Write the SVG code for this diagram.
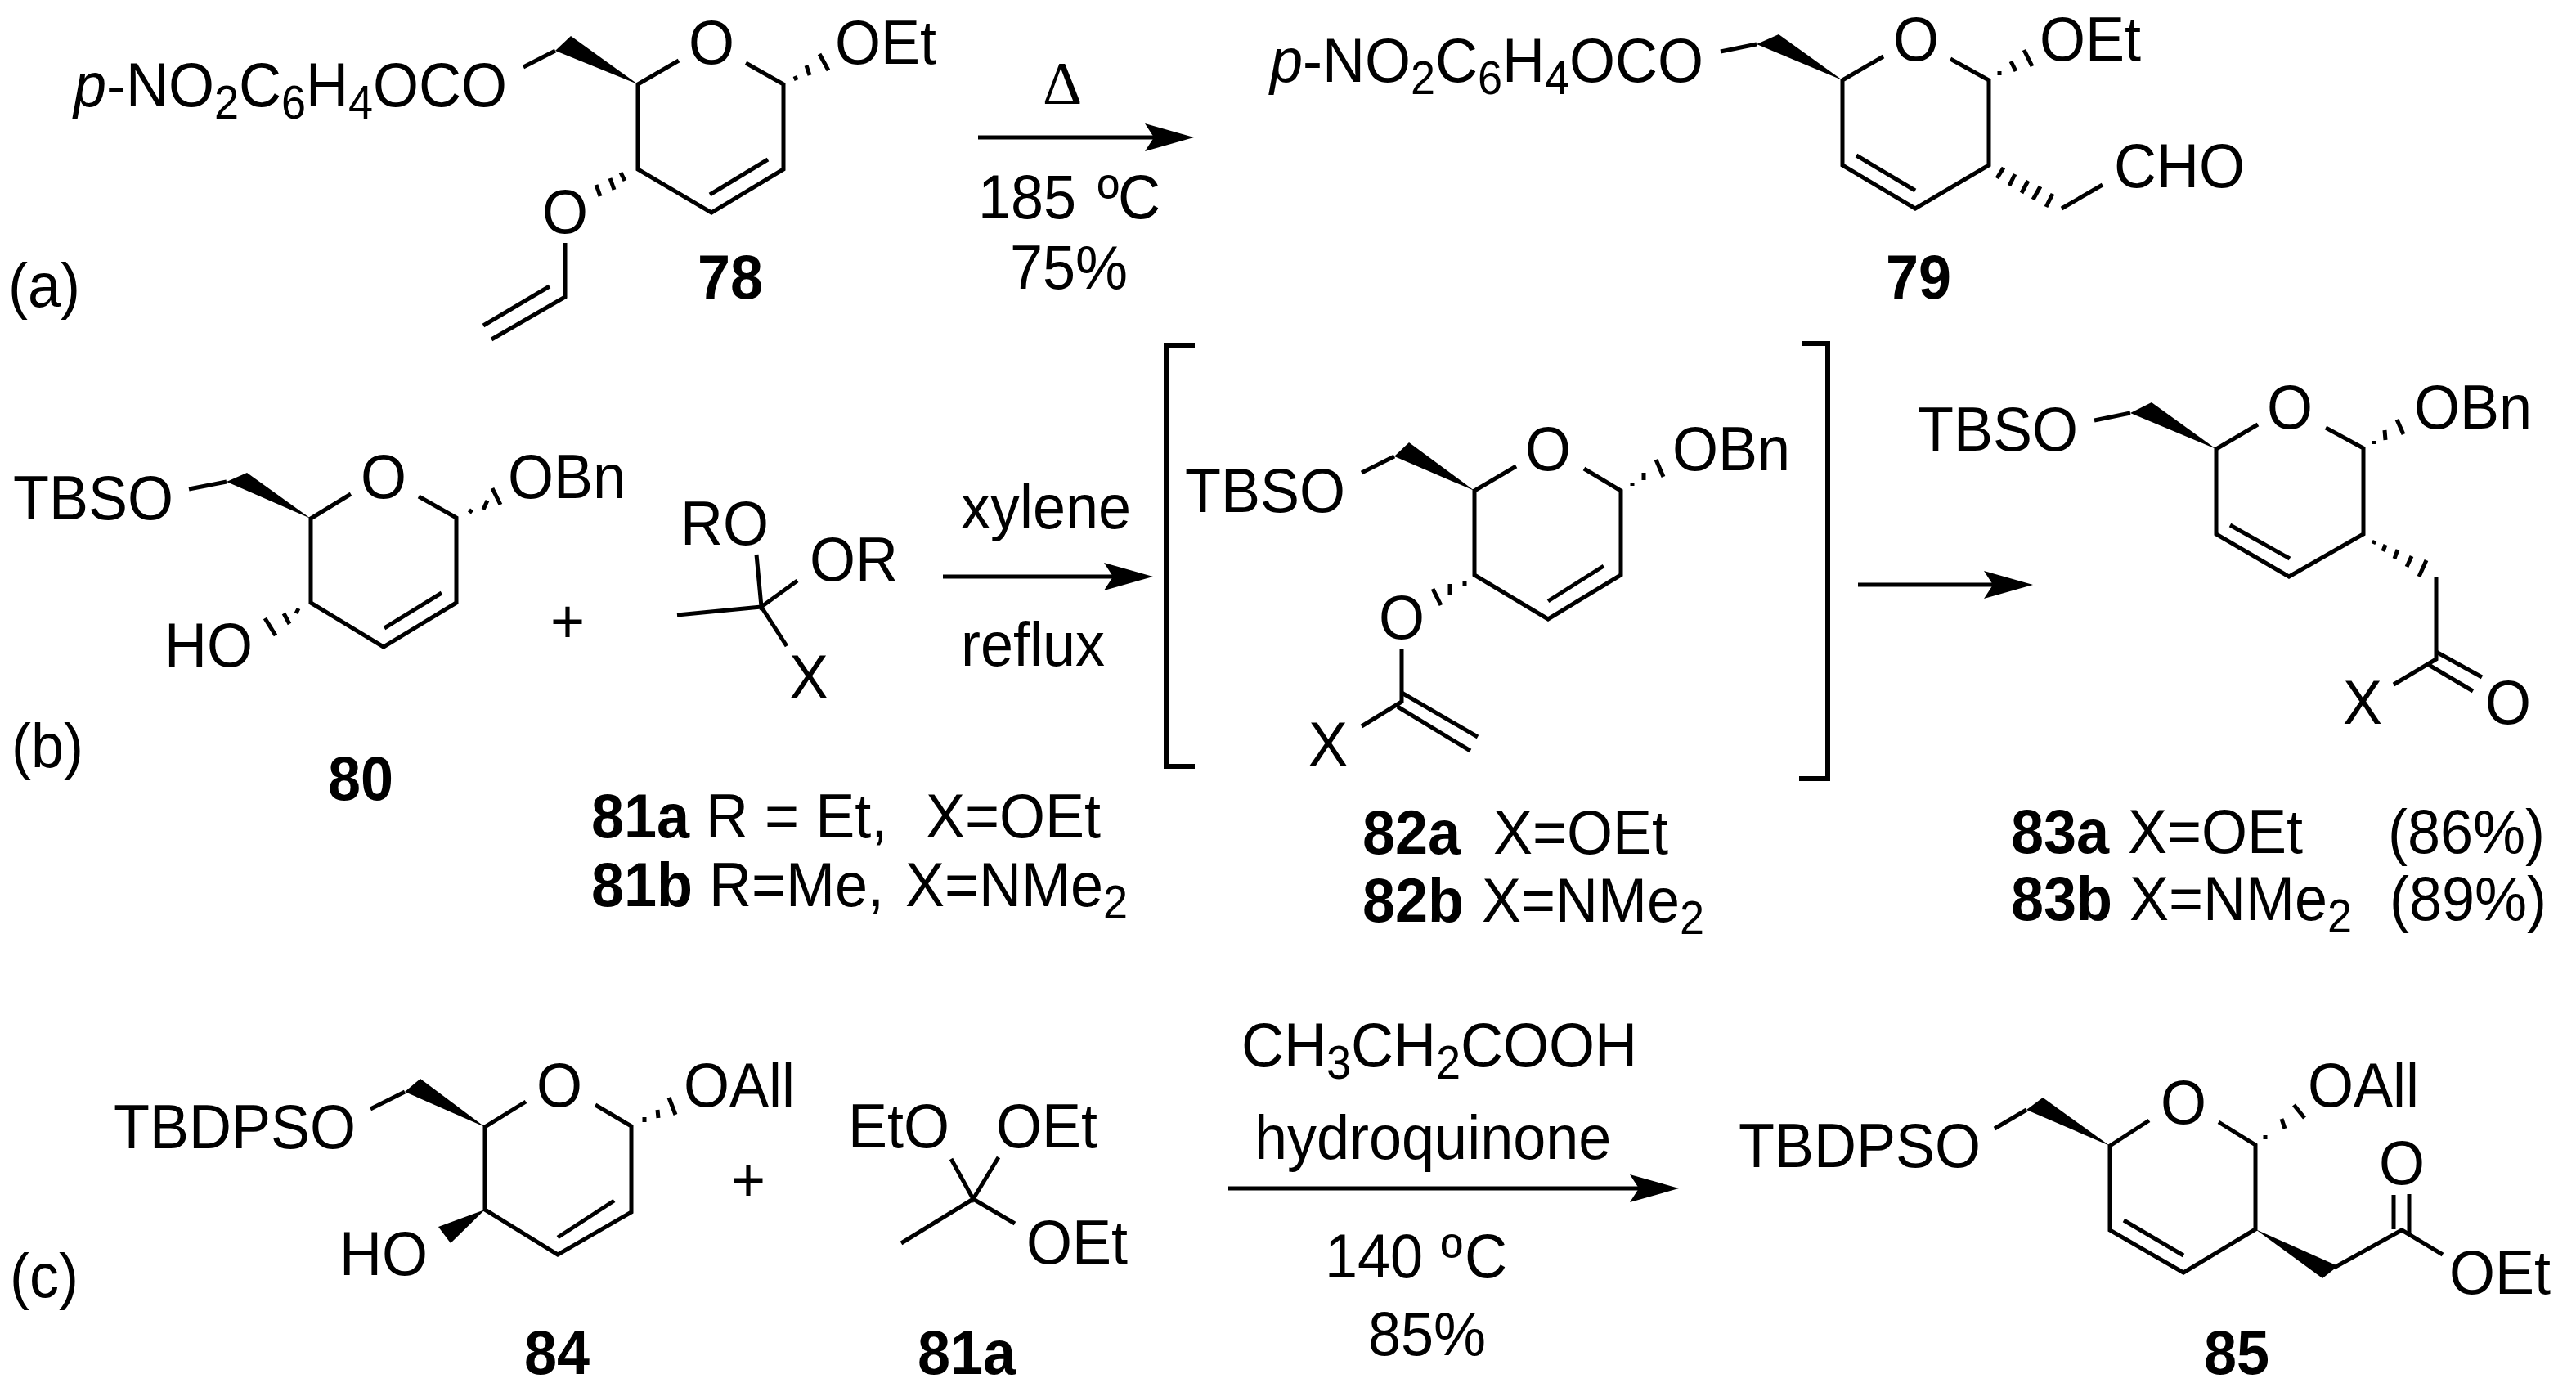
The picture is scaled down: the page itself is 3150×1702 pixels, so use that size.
<svg xmlns="http://www.w3.org/2000/svg" width="3150" height="1702" viewBox="0 0 3150 1702">
<style>
text{font-family:"Liberation Sans",Arial,sans-serif;font-size:72px;fill:#000;transform-box:fill-box;transform-origin:0 81%;transform:scaleY(1.05)}
.b{font-weight:bold}
.i{font-style:italic}
.s{font-size:54px}
.bd{fill:none;stroke:#000;stroke-width:5;stroke-linejoin:miter;stroke-linecap:butt}
.h{fill:none;stroke:#000;stroke-width:5}
.w{fill:#000;stroke:none}
.ar{stroke:#000;stroke-width:5;fill:none;marker-end:url(#ah)}
.br{fill:none;stroke:#000;stroke-width:6}
</style>
<defs>
<marker id="ah" markerUnits="userSpaceOnUse" markerWidth="62" markerHeight="36" viewBox="0 0 62 36" refX="20" refY="18" orient="auto"><path d="M1,1 L61,18 L1,35 L12,18 Z" fill="#000"/></marker>
</defs>
<rect width="3150" height="1702" fill="#fff"/>

<g id="labels">
<text x="10" y="375">(a)</text>
<text x="14" y="938">(b)</text>
<text x="12" y="1586">(c)</text>
</g>

<g id="n78">
<text x="90" y="130"><tspan class="i">p</tspan>-NO<tspan class="s" dy="15">2</tspan><tspan dy="-15">C</tspan><tspan class="s" dy="15">6</tspan><tspan dy="-15">H</tspan><tspan class="s" dy="15">4</tspan><tspan dy="-15">OCO</tspan></text>
<text x="842" y="78">O</text>
<text x="1021" y="78">OEt</text>
<text x="663" y="285">O</text>
<text class="b" x="853" y="365">78</text>
<polyline class="bd" points="830,74 780,103 780,207 870,260 958,207 958,103 912,77"/>
<line class="bd" x1="868" y1="238" x2="939" y2="195"/>
<polyline class="bd" points="640,82 679,62"/>
<polygon class="w" points="780,103 698,44 679,62"/>
<path class="h" d="M972,93L974,98M986,80L990,92M1002,66L1013,86"/>
<path class="h" d="M759,211L764,221M746,218L751,232M729,226L734,240"/>
<polyline class="bd" points="691,297 691,363 601,415"/>
<line class="bd" x1="672" y1="350" x2="591" y2="398"/>
</g>

<g id="n79">
<text x="1553" y="100"><tspan class="i">p</tspan>-NO<tspan class="s" dy="15">2</tspan><tspan dy="-15">C</tspan><tspan class="s" dy="15">6</tspan><tspan dy="-15">H</tspan><tspan class="s" dy="15">4</tspan><tspan dy="-15">OCO</tspan></text>
<text x="2315" y="74">O</text>
<text x="2494" y="74">OEt</text>
<text x="2585" y="229">CHO</text>
<text class="b" x="2306" y="365">79</text>
<polyline class="bd" points="2303,69 2253,98 2253,202 2342,255 2432,202 2432,98 2385,72"/>
<line class="bd" x1="2270" y1="190" x2="2342" y2="233"/>
<polyline class="bd" points="2104,63 2148,54"/>
<polygon class="w" points="2253,98 2175,42 2148,54"/>
<path class="h" d="M2445,87L2445,92M2459,75L2465,87M2475,61L2485,81"/>
<path class="h" d="M2442,218L2450,205M2457,227L2464,213M2472,236L2480,221M2486,244L2495,228M2502,253L2510,237"/>
<line class="bd" x1="2521" y1="255" x2="2571" y2="226"/>
</g>

<g id="n80">
<text x="16" y="635">TBSO</text>
<text x="441" y="609">O</text>
<text x="621" y="609">OBn</text>
<text x="201" y="815">HO</text>
<text class="b" x="401" y="978">80</text>
<polyline class="bd" points="429,604 380,634 380,737 469,791 558,737 558,633 512,607"/>
<line class="bd" x1="470" y1="768" x2="540" y2="725"/>
<polyline class="bd" points="231,598 277,589"/>
<polygon class="w" points="380,634 302,578 277,589"/>
<path class="h" d="M574,627L577,623M591,623L596,612M602,597L612,617"/>
<path class="h" d="M365,744L362,750M347,750L354,763M324,756L337,777"/>
</g>

<g id="plus1"><text x="673" y="786">+</text></g>

<g id="n81">
<text x="832" y="666">RO</text>
<text x="990" y="710">OR</text>
<text x="965" y="854">X</text>
<path class="bd" d="M828,752L931,742M925,678L931,742L975,710M931,742L962,790"/>
<text x="723" y="1024"><tspan class="b">81a</tspan> R = Et,  <tspan x="1132">X=OEt</tspan></text>
<text x="723" y="1108"><tspan class="b">81b</tspan> R=Me, <tspan x="1107">X=NMe</tspan><tspan class="s" dy="15">2</tspan></text>
</g>

<g id="n82">
<text x="1449" y="626">TBSO</text>
<text x="1865" y="575">O</text>
<text x="2045" y="575">OBn</text>
<text x="1686" y="781">O</text>
<text x="1600" y="936">X</text>
<polyline class="bd" points="1854,570 1803,600 1803,703 1893,757 1982,703 1982,600 1937,573"/>
<line class="bd" x1="1893" y1="735" x2="1961" y2="692"/>
<polyline class="bd" points="1665,578 1705,558"/>
<polygon class="w" points="1803,600 1723,541 1705,558"/>
<path class="h" d="M1996,590L1996,594M2010,578L2010,587M2025,562L2034,583"/>
<path class="h" d="M1791,711L1791,716M1773,714L1773,727M1752,720L1762,740"/>
<polyline class="bd" points="1714,794 1714,858 1665,888"/>
<line class="bd" x1="1709" y1="864" x2="1798" y2="918"/>
<line class="bd" x1="1714" y1="847" x2="1807" y2="901"/>
<text x="1666" y="1044"><tspan class="b">82a</tspan> <tspan x="1826">X=OEt</tspan></text>
<text x="1666" y="1127"><tspan class="b">82b</tspan> <tspan x="1812">X=NMe</tspan><tspan class="s" dy="15">2</tspan></text>
</g>

<g id="n83">
<text x="2345" y="551">TBSO</text>
<text x="2772" y="524">O</text>
<text x="2952" y="524">OBn</text>
<text x="2865" y="885">X</text>
<text x="3039" y="885">O</text>
<polyline class="bd" points="2761,519 2710,549 2710,653 2799,705 2890,653 2890,548 2844,523"/>
<line class="bd" x1="2727" y1="642" x2="2800" y2="683"/>
<polyline class="bd" points="2561,514 2605,505"/>
<polygon class="w" points="2710,549 2631,492 2605,505"/>
<path class="h" d="M2903,539L2903,543M2916,526L2917,538M2931,513L2939,531"/>
<path class="h" d="M2904,661L2902,665M2917,666L2914,674M2932,672L2928,683M2949,680L2943,693M2967,685L2958,705"/>
<polyline class="bd" points="2979,705 2979,806 2927,837"/>
<line class="bd" x1="2979" y1="797" x2="3035" y2="828"/>
<line class="bd" x1="2970" y1="813" x2="3024" y2="845"/>
<text x="2459" y="1043"><tspan class="b">83a</tspan> <tspan x="2602">X=OEt</tspan><tspan x="2920">(86%)</tspan></text>
<text x="2459" y="1125"><tspan class="b">83b</tspan> <tspan x="2604">X=NMe</tspan><tspan class="s" dy="15">2</tspan><tspan x="2922" dy="-15">(89%)</tspan></text>
</g>

<g id="n84">
<text x="139" y="1404">TBDPSO</text>
<text x="656" y="1353">O</text>
<text x="836" y="1353">OAll</text>
<text x="415" y="1559">HO</text>
<text class="b" x="641" y="1680">84</text>
<polyline class="bd" points="643,1347 593,1378 593,1479 682,1534 772,1482 772,1377 728,1351"/>
<line class="bd" x1="682" y1="1513" x2="751" y2="1468"/>
<polyline class="bd" points="453,1356 495,1335"/>
<polygon class="w" points="593,1378 514,1319 495,1335"/>
<polygon class="w" points="593,1479 536,1500 551,1520"/>
<path class="h" d="M788,1366L788,1372M804,1357L805,1367M818,1342L826,1363"/>
</g>

<g id="plus2"><text x="894" y="1469">+</text></g>

<g id="n81a">
<text x="1037" y="1403">EtO</text>
<text x="1218" y="1403">OEt</text>
<text x="1255" y="1545">OEt</text>
<text class="b" x="1122" y="1680">81a</text>
<path class="bd" d="M1163,1417L1190,1466L1221,1415M1241,1496L1190,1466L1102,1520"/>
</g>

<g id="n85">
<text x="2126" y="1427">TBDPSO</text>
<text x="2642" y="1374">O</text>
<text x="2822" y="1353">OAll</text>
<text x="2909" y="1448">O</text>
<text x="2995" y="1582">OEt</text>
<text class="b" x="2695" y="1680">85</text>
<polyline class="bd" points="2628,1370 2580,1401 2580,1504 2670,1556 2758,1503 2758,1400 2713,1372"/>
<line class="bd" x1="2597" y1="1492" x2="2670" y2="1535"/>
<polyline class="bd" points="2439,1380 2478,1357"/>
<polygon class="w" points="2580,1401 2498,1342 2478,1357"/>
<path class="h" d="M2770,1388L2770,1393M2790,1368L2794,1380M2805,1351L2818,1367"/>
<polygon class="w" points="2758,1503 2859,1548 2840,1563"/>
<polyline class="bd" points="2854,1550 2937,1504 2987,1534"/>
<line class="bd" x1="2927" y1="1461" x2="2927" y2="1503"/>
<line class="bd" x1="2946" y1="1460" x2="2946" y2="1509"/>
</g>

<g id="conditions">
<text x="1299" y="127" text-anchor="middle" style="font-family:'Liberation Serif',serif;font-size:75px;transform:none">Δ</text>
<text x="1196" y="267">185 <tspan x="1342">º</tspan><tspan x="1367">C</tspan></text>
<text x="1235" y="353">75%</text>
<text x="1175" y="646">xylene</text>
<text x="1175" y="814">reflux</text>
<text x="1518" y="1304">CH<tspan class="s" dy="15">3</tspan><tspan dy="-15">CH</tspan><tspan class="s" dy="15">2</tspan><tspan dy="-15">COOH</tspan></text>
<text x="1534" y="1417">hydroquinone</text>
<text x="1620" y="1562">140 <tspan x="1762">º</tspan><tspan x="1791">C</tspan></text>
<text x="1673" y="1657">85%</text>
</g>

<g id="connectors">
<line class="ar" x1="1196" y1="168" x2="1419" y2="168"/>
<line class="ar" x1="1153" y1="705" x2="1369" y2="705"/>
<line class="ar" x1="2272" y1="715" x2="2445" y2="715"/>
<line class="ar" x1="1502" y1="1453" x2="2012" y2="1453"/>
<polyline class="br" points="1461,422 1426,422 1426,937 1461,937"/>
<polyline class="br" points="2204,420 2235,420 2235,952 2200,952"/>
</g>
</svg>
